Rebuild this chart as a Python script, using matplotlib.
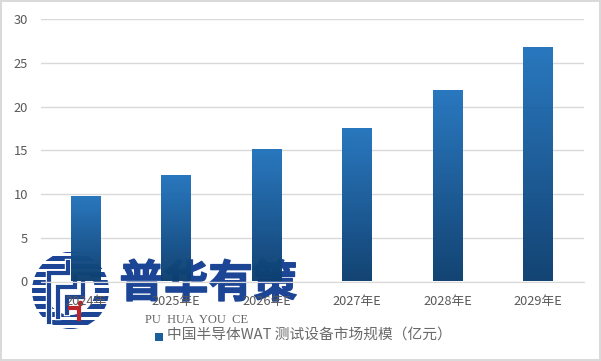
import numpy as np
import matplotlib
matplotlib.use("Agg")
import matplotlib.pyplot as plt
import matplotlib.patheffects as pe
from matplotlib.patches import Rectangle, Wedge, Circle
from matplotlib.colors import LinearSegmentedColormap

categories = ["2024年", "2025年E", "2026年E", "2027年E", "2028年E", "2029年E"]
values = [9.8, 12.2, 15.2, 17.6, 21.9, 26.8]
yticks = [0, 5, 10, 15, 20, 25, 30]
series_name = "中国半导体WAT 测试设备市场规模（亿元）"

plt.rcParams['font.family'] = ['Noto Sans CJK SC', 'DejaVu Sans']
W, H = 601, 361
fig = plt.figure(figsize=(W/100, H/100), dpi=100, facecolor='white')

# watermark layer sits below the chart
back = fig.add_axes([0, 0, 1, 1], zorder=1)
back.set_xlim(0, W); back.set_ylim(H, 0); back.axis('off')
navy = '#1c4596'
cx, cy, r = 70.5, 290.5, 38.5
disc = Circle((cx, cy), r, transform=back.transData)
back.add_patch(Wedge((cx, cy), r, 0, 360, width=14, fc=navy, ec='none'))
top = Rectangle((42, 252), 50, 23, fc=navy, ec='none')
back.add_patch(top)
top.set_clip_path(disc)
for yy in np.arange(cy-37.5, cy+40, 8.0):
    back.add_patch(Rectangle((cx-40, yy), 80, 3.0, fc='white', ec='none', zorder=3))
paths = [([49, 49, 68, 68], [322, 273, 273, 262]),
         ([58, 58, 75, 75], [317, 287, 287, 276]),
         ([67, 67, 83, 83], [313, 297, 297, 282])]
for xs, ys in paths:
    back.plot(xs, ys, color='white', lw=4.6, zorder=4, solid_joinstyle='miter')
    back.plot(xs, ys, color=navy, lw=3, zorder=4.5, solid_joinstyle='miter')
back.plot([70, 79, 79], [308, 308, 319], color='#b9252b', lw=3, zorder=5, solid_joinstyle='miter')
back.plot([80], [303], 'o', color='#b9252b', ms=3, zorder=5)
back.text(208.5, 284, "普华有策", color=navy, fontsize=32, fontweight='black',
          ha='center', va='center', zorder=4,
          path_effects=[pe.withStroke(linewidth=1.0, foreground=navy)])
back.text(196.5, 320, "PU  HUA  YOU  CE", color='#666666', fontsize=9.0,
          family='Liberation Serif', ha='center', va='center', zorder=4)

ax = fig.add_axes([40.5/W, 1-281.5/H, 543/W, 262.5/H], zorder=2)
ax.patch.set_alpha(0)
for s in ax.spines.values():
    s.set_visible(False)
ax.spines['bottom'].set_visible(True)
ax.spines['bottom'].set_color('#d9d9d9')
ax.set_yticks(yticks)
ax.set_xticks(range(len(categories)))
ax.set_xticklabels(categories)
ax.tick_params(length=0, labelcolor='#595959', labelsize=9.2)
ax.tick_params(axis='x', pad=10)
ax.tick_params(axis='y', pad=9, labelsize=9.3)
ax.grid(axis='y', color='#d9d9d9', lw=1)
ax.set_axisbelow(True)

cmap = LinearSegmentedColormap.from_list('b', ['#0d3f70', '#2475be'])
grad = np.linspace(0, 1, 256).reshape(-1, 1)
bars = ax.bar(range(len(values)), values, width=0.33, color='none', zorder=2)
for b in bars:
    x0, w, h = b.get_x(), b.get_width(), b.get_height()
    im = ax.imshow(grad, extent=[x0, x0+w, 0, h], origin='lower', cmap=cmap,
                   aspect='auto', zorder=2.5, alpha=0.98)
    im.set_clip_path(b)
ax.set_xlim(-0.5, 5.5)
ax.set_ylim(0, 30)

# frame and legend
ov = fig.add_axes([0, 0, 1, 1], zorder=5)
ov.set_xlim(0, W); ov.set_ylim(H, 0); ov.axis('off'); ov.patch.set_alpha(0)
ov.add_patch(Rectangle((0.8, 0.8), W-1.6, H-1.6, fc='none', ec='#d9d9d9', lw=1.4))
ov.add_patch(Rectangle((154.5, 333), 8, 8, fc='#1d5f9c', ec='none'))
ov.text(167, 336, series_name, color='#6a6a6a', fontsize=10.6, va='center', ha='left')

fig.savefig('out.png', dpi=100)
